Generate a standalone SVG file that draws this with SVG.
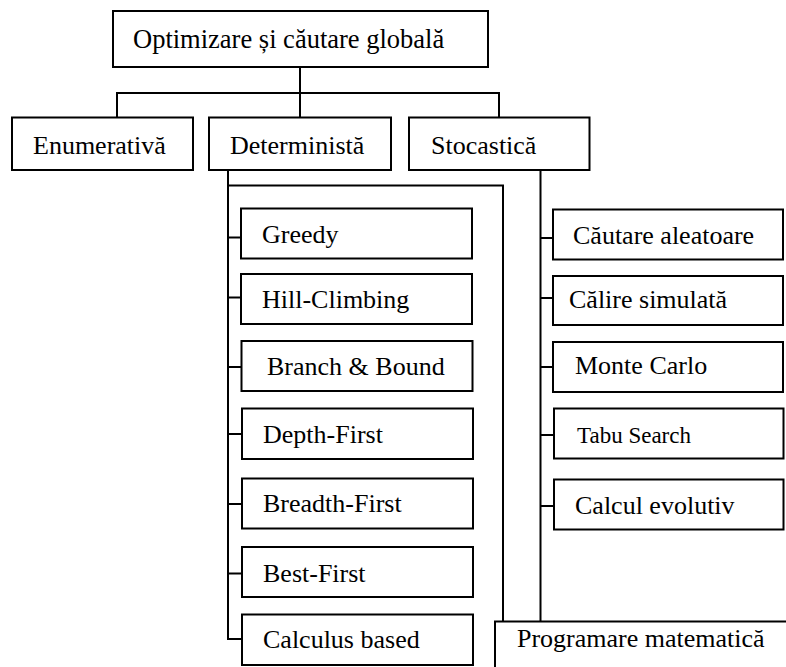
<svg xmlns="http://www.w3.org/2000/svg" width="786" height="667" viewBox="0 0 786 667">
<style>
  .box { fill: #ffffff; stroke: #000000; stroke-width: 2; }
  .lbl { font-family: "Liberation Serif", "Times New Roman", serif; font-size: 26px; fill: #000000; }
  .small { font-size: 23px; }
  .conn { fill: none; stroke: #000000; stroke-width: 2; }
</style>
<rect x="0" y="0" width="786" height="667" fill="#ffffff"/>
<g id="connectors" class="conn">
  <path d="M300 67 V117"/>
  <path d="M117 117 V93 H499 V117"/>
  <path d="M228 170 V639 H241"/>
  <path d="M228 185.5 H503 V621.5"/>
  <path d="M540.5 170 V621.5"/>
  <path d="M228 237.5 H241"/>
  <path d="M228 297.5 H241"/>
  <path d="M228 367 H241"/>
  <path d="M228 434 H242"/>
  <path d="M228 504 H242"/>
  <path d="M228 573.5 H242"/>
  <path d="M540.5 238 H553"/>
  <path d="M540.5 298 H553"/>
  <path d="M540.5 367 H553"/>
  <path d="M540.5 435 H554"/>
  <path d="M540.5 506 H554"/>
</g>
<g id="root">
  <rect class="box" x="113" y="11" width="375" height="56"/>
  <text class="lbl" x="133" y="48" style="font-size:26.5px">Optimizare și căutare globală</text>
</g>
<g id="enumerativa">
  <rect class="box" x="12" y="117.5" width="181" height="52.5"/>
  <text class="lbl" x="33" y="154">Enumerativă</text>
</g>
<g id="determinista">
  <rect class="box" x="209" y="117.5" width="182" height="52.5"/>
  <text class="lbl" x="230" y="154">Deterministă</text>
</g>
<g id="stocastica">
  <rect class="box" x="409" y="117.5" width="180.5" height="52.5"/>
  <text class="lbl" x="431" y="154">Stocastică</text>
</g>
<g id="greedy">
  <rect class="box" x="241" y="208.5" width="231" height="50"/>
  <text class="lbl" x="262" y="243">Greedy</text>
</g>
<g id="hill-climbing">
  <rect class="box" x="241" y="274" width="231" height="50"/>
  <text class="lbl" x="262" y="308">Hill-Climbing</text>
</g>
<g id="branch-bound">
  <rect class="box" x="241.5" y="341" width="231" height="50"/>
  <text class="lbl" x="267" y="375">Branch &amp; Bound</text>
</g>
<g id="depth-first">
  <rect class="box" x="242" y="408.5" width="231" height="50.5"/>
  <text class="lbl" x="263" y="443">Depth-First</text>
</g>
<g id="breadth-first">
  <rect class="box" x="242" y="478.5" width="231" height="50"/>
  <text class="lbl" x="263" y="512">Breadth-First</text>
</g>
<g id="best-first">
  <rect class="box" x="242" y="547" width="231" height="50"/>
  <text class="lbl" x="263" y="582">Best-First</text>
</g>
<g id="calculus-based">
  <rect class="box" x="242" y="614.5" width="231" height="50.5"/>
  <text class="lbl" x="263" y="648">Calculus based</text>
</g>
<g id="cautare-aleatoare">
  <rect class="box" x="553" y="209.5" width="230" height="50"/>
  <text class="lbl" x="573" y="244">Căutare aleatoare</text>
</g>
<g id="calire-simulata">
  <rect class="box" x="553" y="276" width="230" height="49"/>
  <text class="lbl" x="569" y="308">Călire simulată</text>
</g>
<g id="monte-carlo">
  <rect class="box" x="553" y="342" width="230" height="50"/>
  <text class="lbl" x="575" y="374">Monte Carlo</text>
</g>
<g id="tabu-search">
  <rect class="box" x="554" y="408.5" width="229.5" height="50"/>
  <text class="lbl small" x="577" y="443">Tabu Search</text>
</g>
<g id="calcul-evolutiv">
  <rect class="box" x="554" y="479.5" width="229.5" height="50"/>
  <text class="lbl" x="575" y="514">Calcul evolutiv</text>
</g>
<g id="programare-matematica">
  <rect class="box" x="495" y="621.5" width="300" height="60"/>
  <text class="lbl" x="517" y="647">Programare matematică</text>
</g>
</svg>
